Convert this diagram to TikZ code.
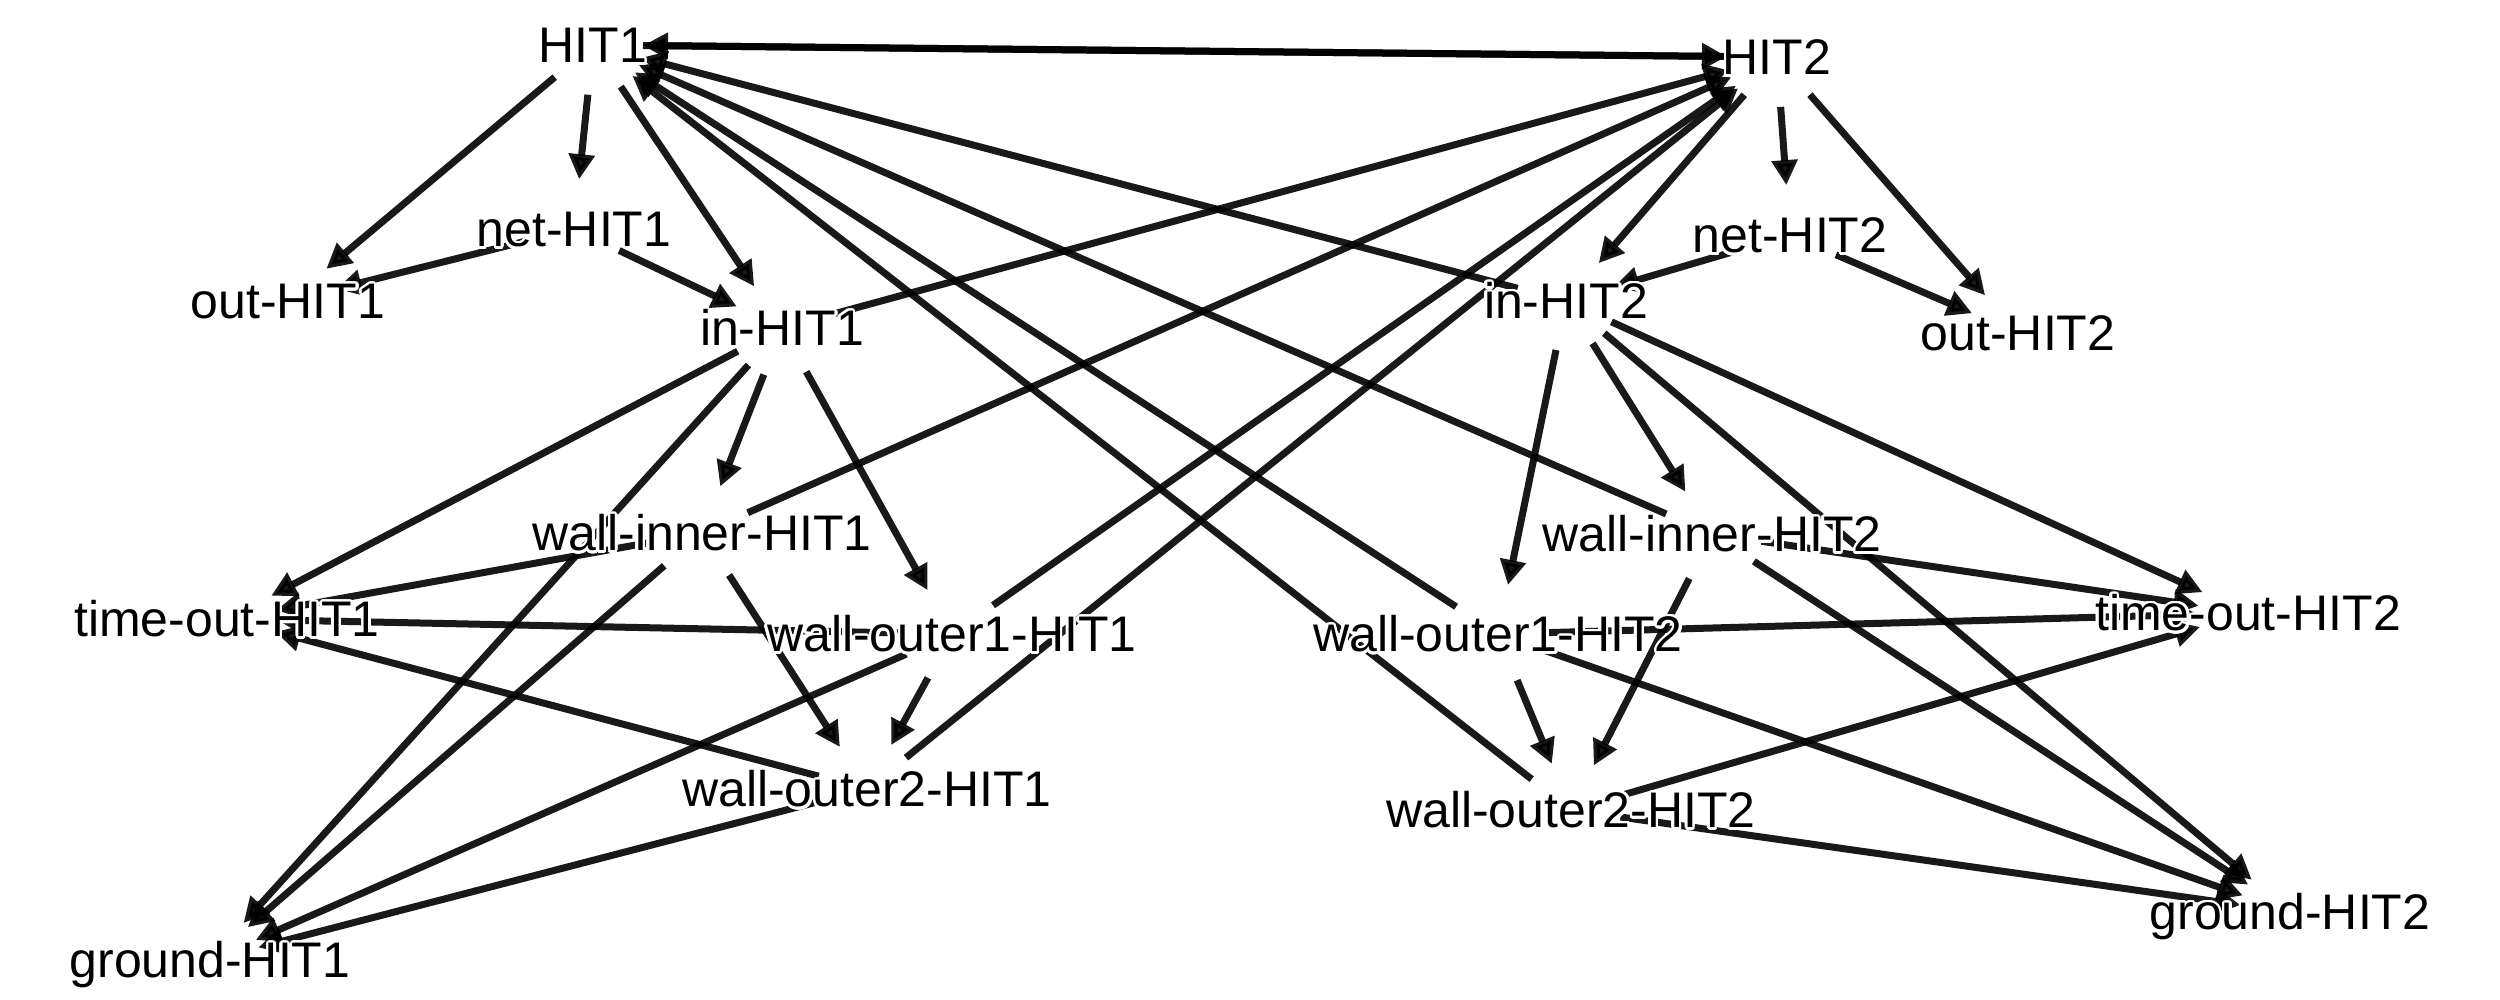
\documentclass[tikz,border=0pt]{standalone}
\usepackage{fontspec}
\setmainfont{Liberation Sans}
\usepackage[copies]{contour}
\contourlength{1pt}
\contournumber{24}
\usetikzlibrary{arrows.meta}
\begin{document}
\begin{tikzpicture}[x=0.4pt,y=-0.4pt,
  lbl/.style={font=\fontsize{20}{24}\selectfont, inner sep=0pt, text height=14.3pt, text depth=0pt},
  edge/.style={draw=black, opacity=0.9, line width=2.8pt,
    -{Triangle[length=10pt,width=10pt]}, shorten >=20pt, shorten <=20pt}]
\path[use as bounding box] (0,0) rectangle (2500,1000);
% node positions
\path (593,45)   node[lbl] (H1) {\phantom{HIT1}}
      (1777,57)  node[lbl] (H2) {\phantom{HIT2}}
      (574,229)  node[lbl] (net1) {\phantom{net-HIT1}}
      (288,301)  node[lbl] (out1) {\phantom{out-HIT1}}
      (782,328)  node[lbl] (in1) {\phantom{in-HIT1}}
      (1790,235) node[lbl] (net2) {\phantom{net-HIT2}}
      (1566,301) node[lbl] (in2) {\phantom{in-HIT2}}
      (2018,333) node[lbl] (out2) {\phantom{out-HIT2}}
      (702,533)  node[lbl] (wi1) {\phantom{wall-inner-HIT1}}
      (227,619)  node[lbl] (to1) {\phantom{time-out-HIT1}}
      (952,634)  node[lbl] (woa1) {\phantom{wall-outer1-HIT1}}
      (867,789)  node[lbl] (wob1) {\phantom{wall-outer2-HIT1}}
      (210,960)  node[lbl] (gr1) {\phantom{ground-HIT1}}
      (1712,534) node[lbl] (wi2) {\phantom{wall-inner-HIT2}}
      (1498,634) node[lbl] (woa2) {\phantom{wall-outer1-HIT2}}
      (2248,613) node[lbl] (to2) {\phantom{time-out-HIT2}}
      (1571,810) node[lbl] (wob2) {\phantom{wall-outer2-HIT2}}
      (2290,912) node[lbl] (gr2) {\phantom{ground-HIT2}};
% edges
\foreach \a/\b in {H1/out1, H1/net1, H1/in1, H1/H2, net1/out1, net1/in1,
  in1/H2, in1/to1, in1/wi1, in1/woa1, in1/gr1,
  wi1/H2, wi1/to1, wi1/gr1, wi1/wob1,
  woa1/H2, woa1/to1, woa1/gr1, woa1/wob1,
  wob1/H2, wob1/to1, wob1/gr1,
  H2/out2, H2/net2, H2/in2, H2/H1, net2/out2, net2/in2,
  in2/H1, in2/to2, in2/wi2, in2/woa2, in2/gr2,
  wi2/H1, wi2/to2, wi2/gr2, wi2/wob2,
  woa2/H1, woa2/to2, woa2/gr2, woa2/wob2,
  wob2/H1, wob2/to2, wob2/gr2}
  \draw[edge] (\a.center) -- (\b.center);
% labels on top
\foreach \n/\t in {H1/HIT1, H2/HIT2, net1/net-HIT1, out1/out-HIT1, in1/in-HIT1,
  net2/net-HIT2, in2/in-HIT2, out2/out-HIT2, wi1/wall-inner-HIT1, to1/time-out-HIT1,
  woa1/wall-outer1-HIT1, wob1/wall-outer2-HIT1, gr1/ground-HIT1, wi2/wall-inner-HIT2,
  woa2/wall-outer1-HIT2, to2/time-out-HIT2, wob2/wall-outer2-HIT2, gr2/ground-HIT2}
  \node[lbl] at (\n.center) {\contour{white}{\t}};
\end{tikzpicture}
\end{document}
